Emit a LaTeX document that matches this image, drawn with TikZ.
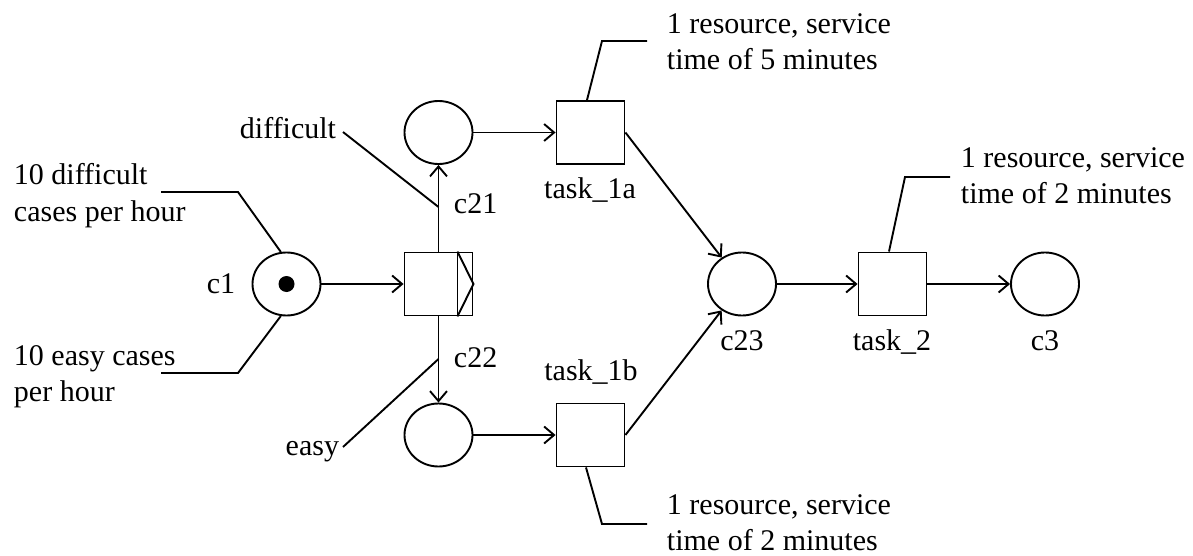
\documentclass[tikz,border=0pt]{standalone}
\usepackage{fontspec}
\setmainfont{Liberation Serif}
\usetikzlibrary{shapes.geometric,arrows.meta}
\begin{document}
\begin{tikzpicture}[x=1pt,y=-1pt, line width=1.9pt,
  place/.style={draw, ellipse, minimum width=68pt, minimum height=63pt, inner sep=0pt},
  trans/.style={draw, rectangle, minimum width=68pt, minimum height=63pt, inner sep=0pt},
  arc/.style={-{Straight Barb[length=10pt,width=17pt,line width=1.9pt]}},
  lbl/.style={font=\fontsize{30}{36}\selectfont, inner sep=0pt},
  note/.style={font=\fontsize{30}{36}\selectfont, inner sep=0pt, align=left, anchor=base west}]
\fill[white] (0,0) rectangle (1193,556);
\useasboundingbox (0,0) rectangle (1193,556);
% places and transitions
\node[place] (c1) at (286.5,284) {};
\node[circle, fill, minimum size=16pt, inner sep=0pt] (tok) at (c1.center) {};
\node[trans] (t0) at (438.5,284) {};
\draw ([xshift=-16pt]t0.north east) -- ([xshift=-16pt]t0.south east);
\draw ([xshift=-16pt]t0.north east) -- (t0.east) -- ([xshift=-16pt]t0.south east);
\node[place] (c21) at (438.5,132.5) {};
\node[place] (c22) at (438.5,435) {};
\node[trans] (t1a) at (590.5,132.5) {};
\node[trans] (t1b) at (590.5,435) {};
\node[place] (c23) at (742,284) {};
\node[trans] (t2) at (892.5,284) {};
\node[place] (c3) at (1045,284) {};
% arcs
\draw[arc] (c1) -- (t0);
\draw[arc] (t0) -- (c21);
\draw[arc] (t0) -- (c22);
\draw[arc] (c21) -- (t1a);
\draw[arc] (c22) -- (t1b);
\draw[arc] (t1a.east) -- (c23);
\draw[arc] (t1b.east) -- (c23);
\draw[arc] (c23) -- (t2);
\draw[arc] (t2) -- (c3);
% labels
\node[lbl, anchor=base] (lc1) at (221,293) {c1};
\node[lbl, anchor=base west] (lc21) at (453,213) {c21};
\node[lbl, anchor=base west] (lc22) at (453,367) {c22};
\node[lbl, anchor=base] (lt1a) at (590,198) {task\_1a};
\node[lbl, anchor=base] (lt1b) at (591,380) {task\_1b};
\node[lbl, anchor=base] (lc23) at (742,350) {c23};
\node[lbl, anchor=base] (lt2) at (892,350) {task\_2};
\node[lbl, anchor=base] (lc3) at (1045,350) {c3};
\node[lbl, anchor=base east] (dif) at (337,139) {difficult};
\node[lbl, anchor=base east] (eas) at (340,455) {easy};
% annotations (anchor = baseline of the last line)
\node[note] (n1) at (13,221) {10 difficult\\cases per hour};
\node[note] (n2) at (13,401) {10 easy cases\\per hour};
\node[note] (n3) at (666,70) {1 resource, service\\time of 5 minutes};
\node[note] (n4) at (960,204) {1 resource, service\\time of 2 minutes};
\node[note] (n5) at (666,550) {1 resource, service\\time of 2 minutes};
\coordinate (a1) at (238,192); \coordinate (a1e) at (161,192);
\coordinate (a2) at (238,373); \coordinate (a2e) at (161,373);
\coordinate (b1) at (602,41); \coordinate (b1e) at (647,41);
\coordinate (b2) at (602,524); \coordinate (b2e) at (647,524);
\coordinate (b3) at (905,177); \coordinate (b3e) at (950,177);
\coordinate (d1) at (438.5,207); \coordinate (d1e) at (343,132);
\coordinate (e1) at (438.5,359); \coordinate (e1e) at (343,447);
\draw (c1.100) -- (a1) -- (a1e);
\draw (c1.260) -- (a2) -- (a2e);
\draw ([xshift=-3.5pt]t1a.north) -- (b1) -- (b1e);
\draw ([xshift=-4.5pt]t1b.south) -- (b2) -- (b2e);
\draw ([xshift=-3.5pt]t2.north) -- (b3) -- (b3e);
\draw (d1) -- (d1e);
\draw (e1) -- (e1e);
\end{tikzpicture}
\end{document}
